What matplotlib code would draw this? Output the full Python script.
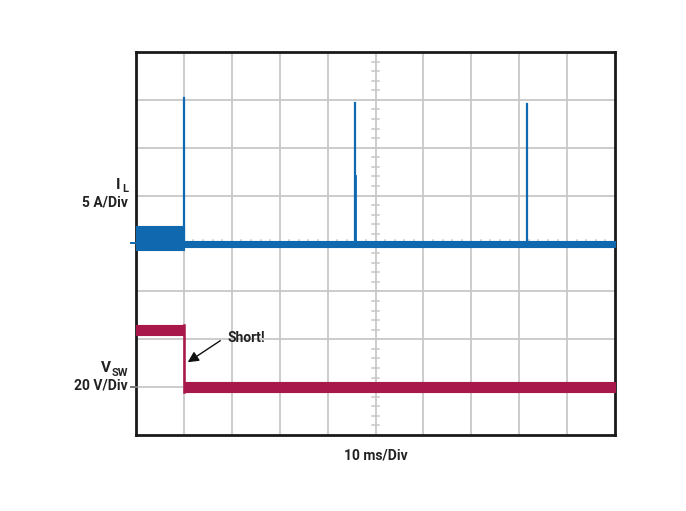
import matplotlib
matplotlib.use("Agg")
import matplotlib.pyplot as plt
import numpy as np

plt.rcParams['font.family'] = ['Roboto', 'DejaVu Sans']

# ---- data (in screen divisions: x 0..10, y 0..8) ----
# Inductor current I_L: noisy band envelope
il_band_t = [0.0, 1.0, 1.0, 10.0]
il_band_lo = [3.86, 3.86, 3.92, 3.92]
il_band_hi = [4.36, 4.36, 4.06, 4.06]
# Hiccup current spikes
spike_t = [1.0, 4.57, 8.17]
spike_peak = [7.04, 6.94, 6.91]
spike2_t = [4.59, 8.155]
spike2_peak = [5.4, 5.78]
# Switch-node voltage V_SW band envelope
vsw_t = [0.0, 1.0, 1.0, 10.0]
vsw_lo = [2.09, 2.09, 0.9, 0.9]
vsw_hi = [2.30, 2.30, 1.11, 1.11]

blue = '#1068ae'
red = '#a8184a'
txt = '#222222'
fw = 'semibold'

fig = plt.figure(figsize=(6.86, 5.11), dpi=100)
ax = fig.add_axes([136/686, 76/511, 479/686, 383/511])
ax.set_xlim(0, 10)
ax.set_ylim(0, 8)

# grid
grid_c = '#c8c8c8'
for gx in range(1, 10):
    ax.axvline(gx, color=grid_c, lw=1.3, zorder=1)
for gy in range(1, 8):
    ax.axhline(gy, color=grid_c, lw=1.3, zorder=1)
# center-cross minor ticks
for mx in np.arange(0.2, 10, 0.2):
    ax.plot([mx, mx], [3.92, 4.08], color=grid_c, lw=1.1, zorder=1)
for my in np.arange(0.2, 8, 0.2):
    ax.plot([4.92, 5.08], [my, my], color=grid_c, lw=1.1, zorder=1)

# I_L trace
ax.fill_between(il_band_t, il_band_lo, il_band_hi, color=blue, lw=0.8, zorder=3)
base = 3.99
for t, p in zip(spike_t, spike_peak):
    ax.plot([t, t], [base, p], color=blue, lw=1.6, zorder=3)
for t, p in zip(spike2_t, spike2_peak):
    ax.plot([t, t], [base, p], color=blue, lw=1.3, zorder=3)

# V_SW trace
ax.fill_between(vsw_t, vsw_lo, vsw_hi, color=red, lw=0.8, zorder=3)
ax.plot([vsw_t[1], vsw_t[1]], [vsw_lo[2], vsw_hi[1]], color=red, lw=1.8, zorder=3)

# channel markers on left
ax.plot([-0.1, 0.02], [4, 4], color=blue, lw=1.4, clip_on=False, zorder=4)
ax.plot([-0.1, 0.02], [1, 1], color='#777777', lw=1.4, clip_on=False, zorder=4)

# spines
for s in ax.spines.values():
    s.set_color('#1a1a1a')
    s.set_linewidth(2.0)
ax.set_xticks([])
ax.set_yticks([])

# annotation
ax.annotate('', xy=(1.08, 1.52), xytext=(1.76, 1.97),
            arrowprops=dict(arrowstyle='-|>', color='#111111', lw=1.0,
                            mutation_scale=16, shrinkA=0, shrinkB=0), zorder=5)
ax.text(1.92, 2.03, 'Short!', ha='left', va='center', fontsize=10,
        color=txt, fontweight=fw, zorder=5)

# channel labels
ax.text(-0.32, 5.22, 'I', ha='right', va='center', fontsize=11, color=txt, fontweight=fw, clip_on=False)
ax.text(-0.17, 5.13, 'L', ha='right', va='center', fontsize=8, color=txt, fontweight=fw, clip_on=False)
ax.text(-0.17, 4.86, '5 A/Div', ha='right', va='center', fontsize=10, color=txt, fontweight=fw, clip_on=False)

ax.text(-0.52, 1.40, 'V', ha='right', va='center', fontsize=11, color=txt, fontweight=fw, clip_on=False)
ax.text(-0.17, 1.30, 'SW', ha='right', va='center', fontsize=8, color=txt, fontweight=fw, clip_on=False)
ax.text(-0.17, 1.03, '20 V/Div', ha='right', va='center', fontsize=10, color=txt, fontweight=fw, clip_on=False)

ax.text(5.0, -0.42, '10 ms/Div', ha='center', va='center', fontsize=10, color=txt, fontweight=fw, clip_on=False)

fig.savefig('out.png', dpi=100)
